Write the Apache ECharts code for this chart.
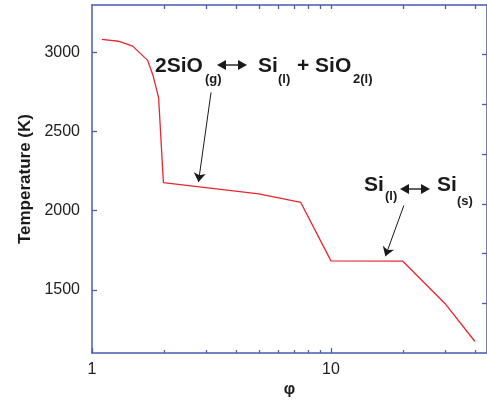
<!DOCTYPE html>
<html>
<head>
<meta charset="utf-8">
<script src="https://cdn.jsdelivr.net/npm/echarts@6/dist/echarts.min.js"></script>
<style>html,body{margin:0;padding:0;background:#fff}#c{width:487px;height:403px}</style>
</head>
<body>
<div id="c"></div>
<script>
// Data
const phi = [1.10, 1.29, 1.48, 1.71, 1.80, 1.90, 1.99, 4.99, 7.48, 10, 20, 30, 40];
const temperature = [3083, 3071, 3040, 2950, 2855, 2715, 2178, 2106, 2052, 1683, 1681, 1414, 1175];
const yTickValues = [1500, 2000, 2500, 3000];
const xMajorTicks = [1, 10];
const xMinorTicks = [2, 3, 4, 5, 6, 7, 8, 9, 20, 30, 40];
const xTopTicks = [2, 3, 4, 5, 6, 7, 8, 9, 10, 20, 30, 40];
const rightTicks = [1, 2, 3, 4, 5, 6];

const AX = '#4a5bb0';
const FONT = '"Liberation Sans", Arial, Helvetica, sans-serif';
const chart = echarts.init(document.getElementById('c'));

function txt(x, y, s, size) {
  return { type: 'text', x: x, y: y, silent: true,
    style: { text: s, fontSize: size, fontWeight: 'bold', fontFamily: FONT, fill: '#1a1a1a', verticalAlign: 'middle', align: 'left' } };
}
function dblArrow(x1, x2, y) {
  return { type: 'group', silent: true, children: [
    { type: 'line', shape: { x1: x1 + 6, y1: y, x2: x2 - 6, y2: y }, style: { stroke: '#1a1a1a', lineWidth: 1.4 } },
    { type: 'polygon', shape: { points: [[x1, y], [x1 + 9, y - 5], [x1 + 9, y + 5]] }, style: { fill: '#1a1a1a' } },
    { type: 'polygon', shape: { points: [[x2, y], [x2 - 9, y - 5], [x2 - 9, y + 5]] }, style: { fill: '#1a1a1a' } }
  ] };
}
// each axis gets its own copy of the tick value list
function tick(len, values) {
  return { show: true, inside: true, length: len, customValues: values.slice(), lineStyle: { color: AX, width: 1.3 } };
}
function line(show) {
  return { show: show, onZero: false, lineStyle: { color: AX, width: 1.5 } };
}

const option = {
  animation: false,
  backgroundColor: '#fff',
  grid: { left: 92, top: 5, width: 398, height: 353 },
  xAxis: [
    { type: 'log', min: 1, max: 45, position: 'bottom',
      axisLine: line(true),
      axisTick: tick(5, xMajorTicks),
      axisLabel: { customValues: xMajorTicks.slice(), fontSize: 16, color: '#222', fontFamily: FONT, margin: 8 },
      splitLine: { show: false },
      name: 'φ', nameLocation: 'middle', nameGap: 23,
      nameTextStyle: { fontSize: 16, fontWeight: 'bold', color: '#1a1a1a', fontFamily: FONT } },
    { type: 'log', min: 1, max: 45, position: 'bottom',
      axisLine: line(false),
      axisTick: tick(3, xMinorTicks),
      axisLabel: { show: false }, splitLine: { show: false } },
    { type: 'log', min: 1, max: 45, position: 'top',
      axisLine: line(true),
      axisTick: tick(4, xTopTicks),
      axisLabel: { show: false }, splitLine: { show: false } }
  ],
  yAxis: [
    { type: 'value', min: 1100, max: 3300, position: 'left',
      axisLine: line(true),
      axisTick: tick(5, yTickValues),
      axisLabel: { customValues: yTickValues.slice(), fontSize: 16, color: '#222', fontFamily: FONT, margin: 12,
                   formatter: v => String(v) },
      splitLine: { show: false },
      name: 'Temperature (K)', nameLocation: 'middle', nameGap: 51,
      nameTextStyle: { fontSize: 17, fontWeight: 'bold', color: '#1a1a1a', fontFamily: FONT } },
    { type: 'value', min: 0, max: 7, position: 'right',
      axisLine: line(true),
      axisTick: tick(5, rightTicks),
      axisLabel: { show: false }, splitLine: { show: false } }
  ],
  series: [{
    type: 'line', xAxisIndex: 0, yAxisIndex: 0,
    data: phi.map((p, i) => [p, temperature[i]]),
    showSymbol: false, symbol: 'none',
    lineStyle: { color: '#e8262e', width: 1.3 },
    markLine: {
      silent: true, animation: false,
      symbol: ['none', 'arrow'], symbolSize: 9,
      label: { show: false },
      lineStyle: { color: '#1a1a1a', width: 1, type: 'solid' },
      emphasis: { disabled: true },
      data: [
        [{ coord: [3.15, 2748] }, { coord: [2.79, 2181] }],
        [{ coord: [20.2, 2033] }, { coord: [16.9, 1712] }]
      ]
    }
  }],
  graphic: [
    txt(155, 66, '2SiO', 21), txt(205, 79.5, '(g)', 13),
    dblArrow(217, 247, 65),
    txt(258, 66, 'Si', 21), txt(278, 79.5, '(l)', 13),
    txt(297, 66, '+ SiO', 21), txt(353, 79.5, '2(l)', 13),
    txt(364, 185, 'Si', 21), txt(385, 196.5, '(l)', 13),
    dblArrow(400, 430, 189),
    txt(437, 185, 'Si', 21), txt(457, 201.5, '(s)', 13)
  ]
};
chart.setOption(option);
</script>
</body>
</html>
